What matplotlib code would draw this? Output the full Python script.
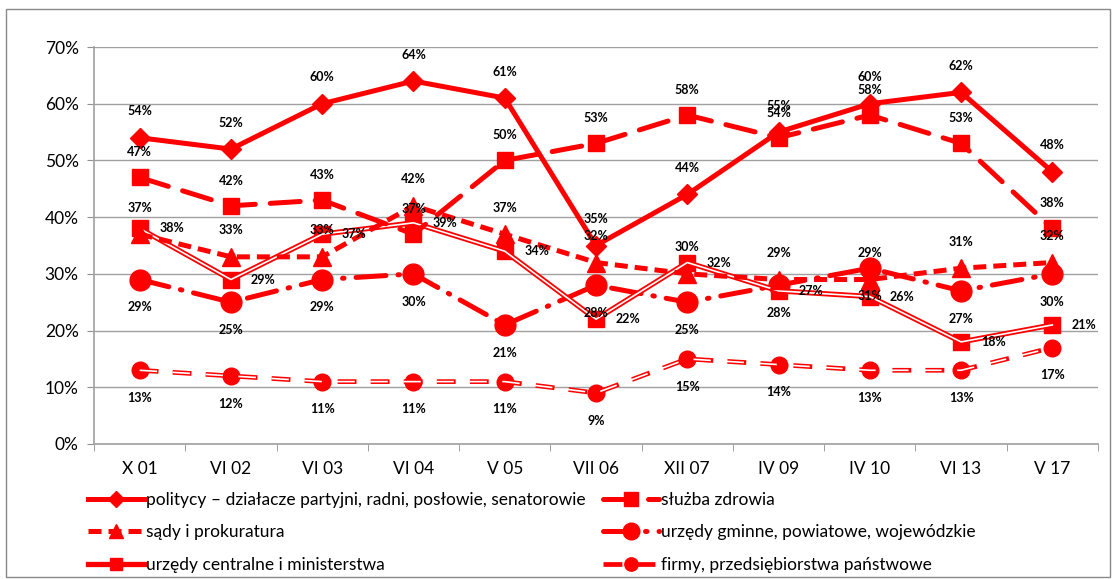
import numpy as np
import matplotlib.pyplot as plt
from matplotlib.patches import Rectangle

plt.rcParams['font.family'] = ['Lato', 'DejaVu Sans']

# categories and series (percent)
categories = ['X 01', 'VI 02', 'VI 03', 'VI 04', 'V 05', 'VII 06',
              'XII 07', 'IV 09', 'IV 10', 'VI 13', 'V 17']
politycy = [54, 52, 60, 64, 61, 35, 44, 55, 60, 62, 48]
sluzba = [47, 42, 43, 37, 50, 53, 58, 54, 58, 53, 38]
sady = [37, 33, 33, 42, 37, 32, 30, 29, 29, 31, 32]
gminne = [29, 25, 29, 30, 21, 28, 25, 28, 31, 27, 30]
centralne = [38, 29, 37, 39, 34, 22, 32, 27, 26, 18, 21]
firmy = [13, 12, 11, 11, 11, 9, 15, 14, 13, 13, 17]

names = ['politycy – działacze partyjni, radni, posłowie, senatorowie',
         'służba zdrowia',
         'sądy i prokuratura',
         'urzędy gminne, powiatowe, wojewódzkie',
         'urzędy centralne i ministerstwa',
         'firmy, przedsiębiorstwa państwowe']

RED = '#ff0000'


def main():
    fig = plt.figure(figsize=(11.13, 5.79), dpi=100)
    ax = fig.add_axes([94 / 1113, 1 - 444 / 579, (1098 - 94) / 1113, (444 - 47) / 579])
    x = np.arange(len(categories))

    h1, = ax.plot(x, politycy, color=RED, lw=3.6, marker='D', ms=10,
                  label=names[0], zorder=5)
    h2, = ax.plot(x, sluzba, color=RED, lw=3.6, marker='s', ms=12,
                  dashes=(6, 3), dash_capstyle='round', label=names[1], zorder=4)
    h3, = ax.plot(x, sady, color=RED, lw=3.6, marker='^', ms=13,
                  dashes=(2.6, 1.4), label=names[2], zorder=4)
    h4, = ax.plot(x, gminne, color=RED, lw=3.6, marker='o', ms=15,
                  dashes=(6, 2.4, 0.3, 2.4), dash_capstyle='round',
                  label=names[3], zorder=3)
    h5, = ax.plot(x, centralne, color=RED, lw=3.8, marker='s', ms=11,
                  label=names[4], zorder=3)
    ax.plot(x, centralne, color='white', lw=1.2, zorder=3.1)
    h6, = ax.plot(x, firmy, color=RED, lw=3.4, marker='o', ms=12,
                  dashes=(4, 3), label=names[5], zorder=3)
    ax.plot(x, firmy, color='white', lw=1.2, dashes=(10.5, 9.3), zorder=3.1)

    # data labels
    lab = dict(fontsize=9, fontweight='bold', ha='center', va='center',
               textcoords='offset points', zorder=6)
    for i in x:
        ax.annotate(f'{politycy[i]}%', (i, politycy[i]), xytext=(0, 19), **lab)
        ax.annotate(f'{sluzba[i]}%', (i, sluzba[i]), xytext=(0, 18), **lab)
        ax.annotate(f'{sady[i]}%', (i, sady[i]), xytext=(0, 19), **lab)
        ax.annotate(f'{gminne[i]}%', (i, gminne[i]), xytext=(0, -20), **lab)
        ax.annotate(f'{centralne[i]}%', (i, centralne[i]), xytext=(23, 0), **lab)
        ax.annotate(f'{firmy[i]}%', (i, firmy[i]), xytext=(0, -20), **lab)

    ax.set_xlim(-0.5, len(categories) - 0.5)
    ax.set_ylim(0, 70)
    ax.set_yticks(range(0, 71, 10))
    ax.set_yticklabels([f'{v}%' for v in range(0, 71, 10)], fontsize=12.5)
    ax.set_xticks(x)
    ax.set_xticklabels(categories, fontsize=12.5)
    ax.set_xticks(np.arange(-0.5, len(categories), 1), minor=True)
    ax.tick_params(axis='x', which='major', length=0, pad=12)
    ax.tick_params(axis='x', which='minor', length=5, color='#909090')
    ax.tick_params(axis='y', length=5, color='#909090', pad=6)
    ax.grid(axis='y', color='#a0a0a0', lw=1)
    ax.set_axisbelow(True)
    for s in ['top', 'right']:
        ax.spines[s].set_visible(False)
    for s in ['left', 'bottom']:
        ax.spines[s].set_color('#a0a0a0')
        ax.spines[s].set_linewidth(1.2)

    # legend: rows of two, filled column by column
    handles = [h1, h3, h5, h2, h4, h6]
    fig.legend(handles=handles, labels=[h.get_label() for h in handles],
               ncol=2, frameon=False, fontsize=12.5, loc='upper left',
               bbox_to_anchor=(88 / 1113, 1 - 492 / 579), handlelength=3.2,
               handletextpad=0.15, columnspacing=1.0, labelspacing=0.95,
               borderaxespad=0, borderpad=0, markerscale=0.8)

    fig.patches.append(Rectangle((6 / 1113, 2 / 579), 1104 / 1113, 568 / 579,
                                 transform=fig.transFigure, fill=False,
                                 edgecolor='#888888', lw=1))

    fig.savefig('out.png', dpi=100)


if __name__ == '__main__':
    main()
